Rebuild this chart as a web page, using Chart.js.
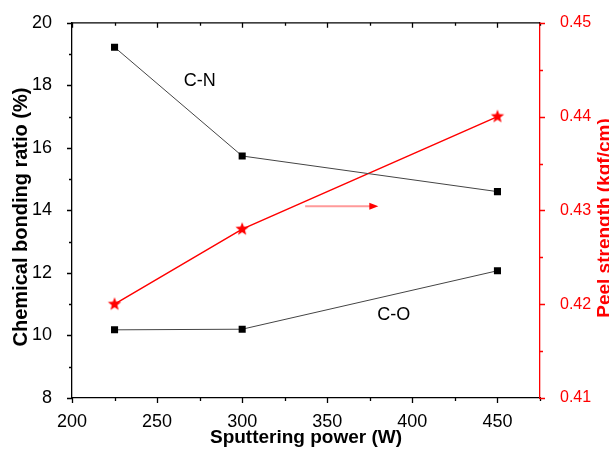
<!DOCTYPE html>
<html>
<head>
<meta charset="utf-8">
<script src="https://cdn.jsdelivr.net/npm/chart.js@4.4.1/dist/chart.umd.min.js"></script>
<style>
  html, body { margin: 0; padding: 0; background: #fff; }
  #wrap { width: 609px; height: 449px; }
</style>
</head>
<body>
<div id="wrap"><canvas id="chart_peel"></canvas></div>
<script>
// values
const powerW = [225, 300, 450];
const cnRatio = [19.22, 15.74, 14.6];
const coRatio = [10.18, 10.2, 12.07];
const peelStrength = [0.42, 0.428, 0.44];

const xTicks = [200, 250, 300, 350, 400, 450];
const leftTicks = [8, 10, 12, 14, 16, 18, 20];
const rightTicks = [0.41, 0.42, 0.43, 0.44, 0.45];

const FONT = "'Liberation Sans', Arial, sans-serif";

// filled 5 point star for the peel strength series
function makeStar(r, color) {
  const c = document.createElement("canvas");
  c.width = c.height = Math.ceil(r * 2 + 2);
  const g = c.getContext("2d");
  const cx = c.width / 2, cy = c.height / 2;
  g.beginPath();
  for (let i = 0; i < 10; i++) {
    const rr = i % 2 === 0 ? r : r * 0.42;
    const a = -Math.PI / 2 + (i * Math.PI) / 5;
    g.lineTo(cx + rr * Math.cos(a), cy + rr * Math.sin(a));
  }
  g.closePath();
  g.fillStyle = color;
  g.fill();
  return c;
}
const starImg = makeStar(7, "#ff0000");

// tick marks (major + minor), top frame, labels, arrow, side titles
const axisTicks = {
  id: "axisTicks",
  afterDraw(chart) {
    const ctx = chart.ctx;
    const x = chart.scales.x, y = chart.scales.y, y1 = chart.scales.y1;
    const a = chart.chartArea;
    ctx.save();
    ctx.lineWidth = 1.3;

    // top frame
    ctx.strokeStyle = "#000";
    ctx.beginPath();
    ctx.moveTo(a.left, a.top);
    ctx.lineTo(a.right, a.top);
    ctx.stroke();

    ctx.beginPath();
    for (let v = 200; v <= 475; v += 25) {
      const px = Math.round(x.getPixelForValue(v)) + 0.5;
      const len = v % 50 === 0 ? 5 : 3;
      ctx.moveTo(px, a.bottom);
      ctx.lineTo(px, a.bottom + len);
      ctx.moveTo(px, a.top);
      ctx.lineTo(px, a.top + len);
    }
    for (let v = 8; v <= 20; v += 1) {
      const py = Math.round(y.getPixelForValue(v)) + 0.5;
      const len = v % 2 === 0 ? 5 : 3;
      ctx.moveTo(a.left, py);
      ctx.lineTo(a.left - len, py);
    }
    ctx.stroke();

    ctx.strokeStyle = "#ff0000";
    ctx.beginPath();
    for (let i = 0; i <= 8; i++) {
      const v = 0.41 + i * 0.005;
      const py = Math.round(y1.getPixelForValue(v)) + 0.5;
      const len = i % 2 === 0 ? 5 : 3;
      ctx.moveTo(a.right, py);
      ctx.lineTo(a.right + len, py);
    }
    ctx.stroke();

    // series labels
    ctx.fillStyle = "#000";
    ctx.font = "18px " + FONT;
    ctx.textAlign = "center";
    ctx.textBaseline = "middle";
    ctx.fillText("C-N", x.getPixelForValue(275), y.getPixelForValue(18.15));
    ctx.fillText("C-O", x.getPixelForValue(389), y.getPixelForValue(10.65));

    // arrow pointing to the right axis
    const ax0 = x.getPixelForValue(337), ax1 = x.getPixelForValue(380);
    const ay = y.getPixelForValue(14.13);
    ctx.strokeStyle = "#ff9a9a";
    ctx.lineWidth = 2;
    ctx.beginPath();
    ctx.moveTo(ax0, ay);
    ctx.lineTo(ax1 - 8, ay);
    ctx.stroke();
    ctx.fillStyle = "#ff0000";
    ctx.beginPath();
    ctx.moveTo(ax1, ay);
    ctx.lineTo(ax1 - 9, ay - 3.5);
    ctx.lineTo(ax1 - 9, ay + 3.5);
    ctx.closePath();
    ctx.fill();

    // side titles, reading bottom to top
    ctx.save();
    ctx.translate(21, 217);
    ctx.rotate(-Math.PI / 2);
    ctx.fillStyle = "#000";
    ctx.font = "bold 20px " + FONT;
    ctx.fillText("Chemical bonding ratio (%)", 0, 0);
    ctx.restore();

    ctx.translate(605, 218);
    ctx.rotate(-Math.PI / 2);
    ctx.fillStyle = "#ff0000";
    ctx.font = "bold 19px " + FONT;
    ctx.fillText("Peel strength (kgf/cm)", 0, 0);
    ctx.restore();
  },
};

const ctx = document.getElementById("chart_peel").getContext("2d");
new Chart(ctx, {
  type: "line",
  data: {
    datasets: [
      {
        label: "C-N",
        data: powerW.map((p, i) => ({ x: p, y: cnRatio[i] })),
        borderColor: "#444",
        borderWidth: 1,
        pointStyle: "rect",
        pointRadius: 5,
        pointBackgroundColor: "#000",
        pointBorderColor: "#000",
        pointBorderWidth: 0,
        yAxisID: "y",
      },
      {
        label: "C-O",
        data: powerW.map((p, i) => ({ x: p, y: coRatio[i] })),
        borderColor: "#444",
        borderWidth: 1,
        pointStyle: "rect",
        pointRadius: 5,
        pointBackgroundColor: "#000",
        pointBorderColor: "#000",
        pointBorderWidth: 0,
        yAxisID: "y",
      },
      {
        label: "Peel strength",
        data: powerW.map((p, i) => ({ x: p, y: peelStrength[i] })),
        borderColor: "#ff0000",
        borderWidth: 1.5,
        pointStyle: starImg,
        yAxisID: "y1",
      },
    ],
  },
  options: {
    responsive: true,
    maintainAspectRatio: false,
    animation: false,
    layout: { padding: { top: 19, left: 0, right: 0, bottom: 0 } },
    plugins: {
      legend: { display: false },
      tooltip: { enabled: false },
    },
    scales: {
      x: {
        type: "linear",
        min: 200,
        max: 475,
        afterBuildTicks: (s) => { s.ticks = xTicks.map((v) => ({ value: v })); },
        grid: { display: false },
        border: { display: true, color: "#000", width: 1.3 },
        ticks: { color: "#000", padding: 5, font: { family: FONT, size: 18 }, maxRotation: 0 },
        title: {
          display: true,
          text: "Sputtering power (W)",
          color: "#000",
          font: { family: FONT, size: 19, weight: "bold" },
          padding: { top: 0, bottom: 0 },
        },
        afterFit: (s) => { s.height = 51; },
      },
      y: {
        position: "left",
        min: 8,
        max: 20,
        afterBuildTicks: (s) => { s.ticks = leftTicks.map((v) => ({ value: v })); },
        grid: { display: false },
        border: { display: true, color: "#000", width: 1.3 },
        ticks: { color: "#000", padding: 12, font: { family: FONT, size: 18 } },
        title: { display: false },
        afterFit: (s) => { s.width = 72; },
      },
      y1: {
        position: "right",
        min: 0.41,
        max: 0.45,
        afterBuildTicks: (s) => { s.ticks = rightTicks.map((v) => ({ value: v })); },
        grid: { display: false },
        border: { display: true, color: "#ff0000", width: 1.3 },
        ticks: {
          color: "#ff0000",
          padding: 12,
          font: { family: FONT, size: 16 },
          callback: (v) => v.toFixed(2),
        },
        title: { display: false },
        afterFit: (s) => { s.width = 69; },
      },
    },
  },
  plugins: [axisTicks],
});
</script>
</body>
</html>
